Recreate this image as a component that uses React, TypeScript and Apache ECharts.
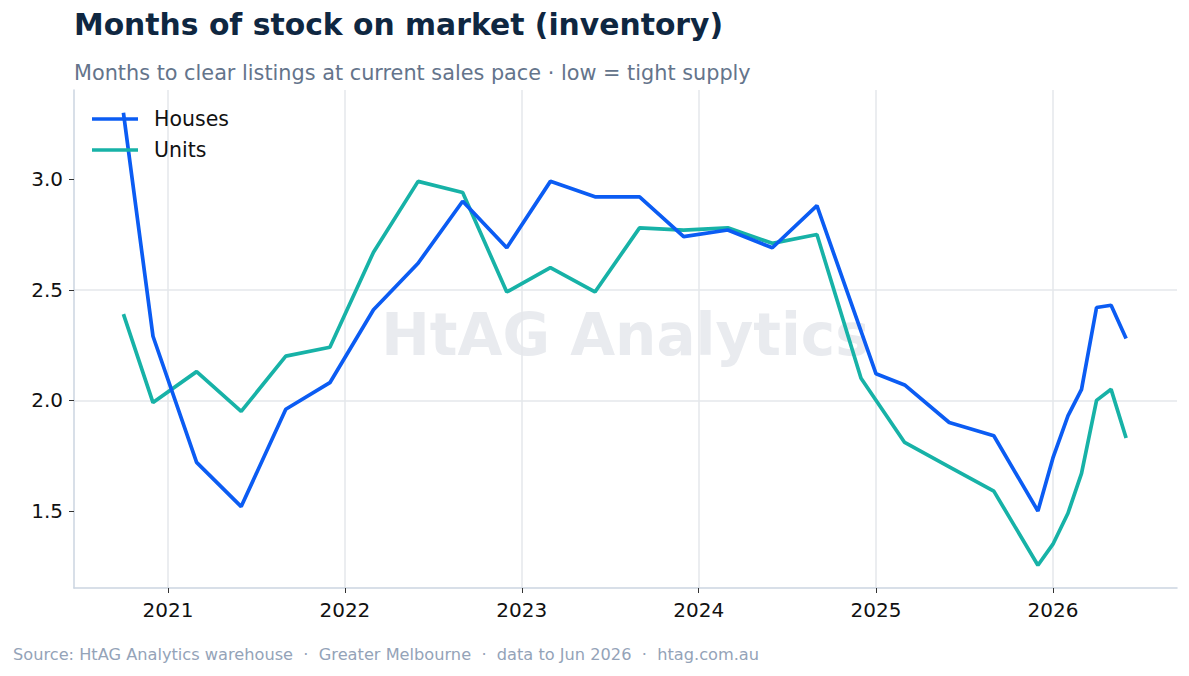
import React, { useEffect, useRef } from "react";
import * as echarts from "echarts";

// Months of stock on market, Greater Melbourne
const houseDates = [
  "2020-10-01", "2020-12-01", "2021-03-01", "2021-06-01", "2021-09-01", "2021-12-01",
  "2022-03-01", "2022-06-01", "2022-09-01", "2022-12-01", "2023-03-01", "2023-06-01",
  "2023-09-01", "2023-12-01", "2024-03-01", "2024-06-01", "2024-09-01", "2025-01-01",
  "2025-03-01", "2025-06-01", "2025-09-01", "2025-12-01", "2026-01-01", "2026-02-01",
  "2026-03-01", "2026-04-01", "2026-05-01", "2026-06-01",
];
const houseValues = [
  3.3, 2.29, 1.72, 1.52, 1.96, 2.08,
  2.41, 2.62, 2.9, 2.69, 2.99, 2.92,
  2.92, 2.74, 2.77, 2.69, 2.88, 2.12,
  2.07, 1.9, 1.84, 1.5, 1.74, 1.93,
  2.05, 2.42, 2.43, 2.28,
];

const unitDates = [
  "2020-10-01", "2020-12-01", "2021-03-01", "2021-06-01", "2021-09-01", "2021-12-01",
  "2022-03-01", "2022-06-01", "2022-09-01", "2022-12-01", "2023-03-01", "2023-06-01",
  "2023-09-01", "2023-12-01", "2024-03-01", "2024-06-01", "2024-09-01", "2024-12-01",
  "2025-03-01", "2025-06-01", "2025-09-01", "2025-12-01", "2026-01-01", "2026-02-01",
  "2026-03-01", "2026-04-01", "2026-05-01", "2026-06-01",
];
const unitValues = [
  2.39, 1.99, 2.13, 1.95, 2.2, 2.24,
  2.67, 2.99, 2.94, 2.49, 2.6, 2.49,
  2.78, 2.77, 2.78, 2.71, 2.75, 2.1,
  1.81, 1.7, 1.59, 1.255, 1.35, 1.49,
  1.67, 2.0, 2.05, 1.83,
];

const yTicks = [1.5, 2.0, 2.5, 3.0];

const TITLE = "Months of stock on market (inventory)";
const SUBTITLE = "Months to clear listings at current sales pace \u00b7 low = tight supply";
const FOOTER =
  "Source: HtAG Analytics warehouse  \u00b7  Greater Melbourne  \u00b7  data to Jun 2026  \u00b7  htag.com.au";
const WATERMARK = "HtAG Analytics";

const FONT = "'DejaVu Sans', sans-serif";
const HOUSE_COLOR = "#0b5cf3";
const UNIT_COLOR = "#17b2a7";
const YEAR_MS = 365 * 24 * 3600 * 1000;

const pairs = (dates: string[], values: number[]) =>
  dates.map((d, i) => [d, values[i]]);

export default function App() {
  const ref = useRef<HTMLDivElement>(null);

  useEffect(() => {
    if (!ref.current) return;
    const chart = echarts.init(ref.current, null, { renderer: "svg" });

    chart.setOption({
      animation: false,
      backgroundColor: "#ffffff",
      textStyle: { fontFamily: FONT },
      grid: { left: 74, right: 12, top: 90, bottom: 88, containLabel: false },
      graphic: [
        {
          type: "text",
          left: 74,
          top: 9,
          silent: true,
          style: {
            text: TITLE,
            font: `bold 29.8px ${FONT}`,
            fill: "#0f2741",
          },
        },
        {
          type: "text",
          left: 74,
          top: 62,
          silent: true,
          style: {
            text: SUBTITLE,
            font: `20.8px ${FONT}`,
            fill: "#64748b",
          },
        },
        {
          type: "text",
          left: 13,
          top: 646,
          silent: true,
          style: {
            text: FOOTER,
            font: `16.2px ${FONT}`,
            fill: "#94a3b8",
          },
        },
        {
          type: "text",
          x: 625.5,
          y: 335,
          z: -1,
          silent: true,
          style: {
            text: WATERMARK,
            font: `bold 58px ${FONT}`,
            fill: "#e9ebef",
            align: "center",
            verticalAlign: "middle",
          },
        },
      ],
      legend: {
        left: 92,
        top: 107,
        padding: 0,
        orient: "vertical",
        icon: "rect",
        itemWidth: 46,
        itemHeight: 3.5,
        itemGap: 7,
        textStyle: {
          fontFamily: FONT,
          fontSize: 20.5,
          color: "#111111",
          lineHeight: 24,
          padding: [0, 0, 0, 11],
        },
        data: ["Houses", "Units"],
      },
      xAxis: {
        type: "time",
        min: +new Date(2020, 5, 21),
        max: +new Date(2026, 8, 14),
        minInterval: YEAR_MS,
        maxInterval: YEAR_MS + 24 * 3600 * 1000,
        axisLine: { show: true, lineStyle: { color: "#cbd5e1", width: 1.5 } },
        axisTick: {
          show: true,
          length: 5,
          lineStyle: { color: "#333333", width: 1 },
        },
        axisLabel: {
          formatter: "{yyyy}",
          showMinLabel: false,
          showMaxLabel: false,
          fontFamily: FONT,
          fontSize: 20,
          color: "#111111",
          margin: 12,
        },
        splitLine: {
          show: true,
          showMinLine: false,
          showMaxLine: false,
          lineStyle: { color: "#e5e7eb", width: 1.5 },
        },
      },
      yAxis: {
        type: "value",
        min: 1.152,
        max: 3.403,
        axisLine: { show: true, lineStyle: { color: "#cbd5e1", width: 1.5 } },
        axisTick: {
          show: true,
          length: 5,
          lineStyle: { color: "#333333", width: 1 },
          customValues: yTicks,
        },
        axisLabel: {
          customValues: yTicks,
          formatter: (v: number) => v.toFixed(1),
          fontFamily: FONT,
          fontSize: 20,
          color: "#111111",
          margin: 11,
        },
        splitLine: {
          show: true,
          showMinLine: false,
          showMaxLine: false,
          lineStyle: { color: "#e5e7eb", width: 1.5 },
        },
      },
      series: [
        {
          name: "Houses",
          type: "line",
          data: pairs(houseDates, houseValues),
          symbol: "none",
          color: HOUSE_COLOR,
          lineStyle: { color: HOUSE_COLOR, width: 3.7 },
          z: 3,
        },
        {
          name: "Units",
          type: "line",
          data: pairs(unitDates, unitValues),
          symbol: "none",
          color: UNIT_COLOR,
          lineStyle: { color: UNIT_COLOR, width: 3.7 },
          z: 2,
        },
      ],
    });

    return () => chart.dispose();
  }, []);

  return (
    <div
      ref={ref}
      style={{ position: "fixed", left: 0, top: 0, width: 1189, height: 676, background: "#fff" }}
    />
  );
}
